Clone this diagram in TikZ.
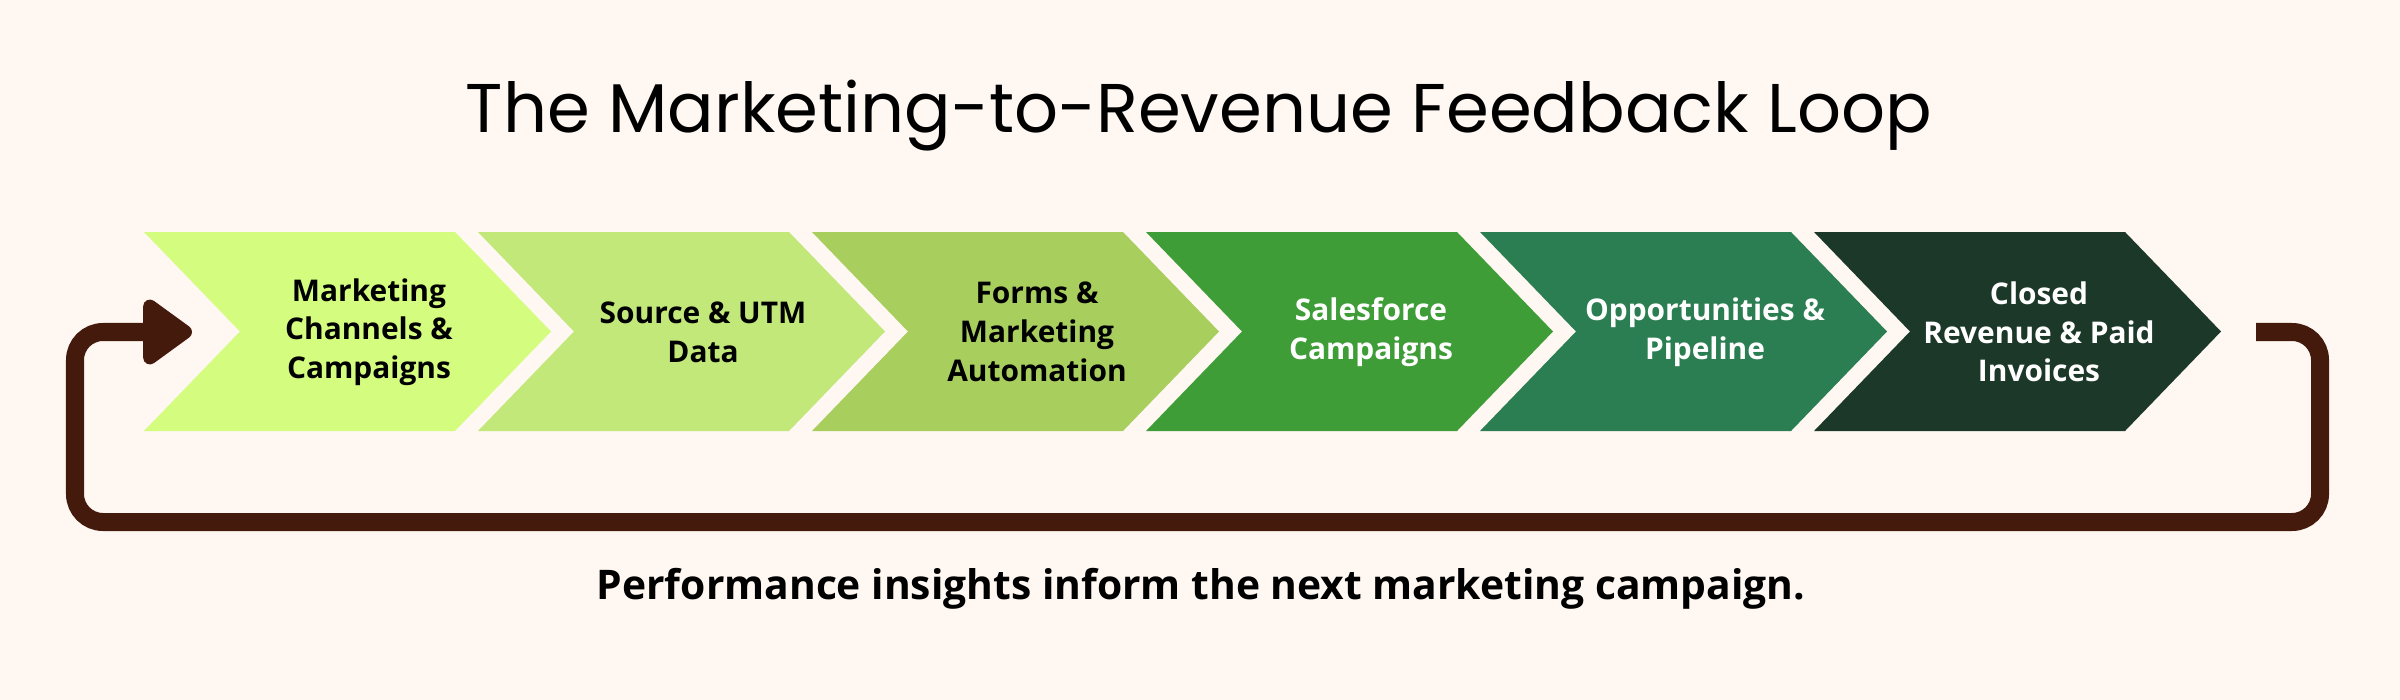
\documentclass[tikz,border=0pt]{standalone}
\usepackage{fontspec}
\setmainfont{Open Sans}
\newfontfamily\titlefont{Poppins}
\usetikzlibrary{arrows.meta}
\definecolor{bg}{HTML}{FEF7F2}
\definecolor{loopbrown}{HTML}{431A0B}
\definecolor{chA}{HTML}{D4FC7E}
\definecolor{chB}{HTML}{C1E878}
\definecolor{chC}{HTML}{A8CE5E}
\definecolor{chD}{HTML}{3E9D37}
\definecolor{chE}{HTML}{2B7E52}
\definecolor{chF}{HTML}{1C3828}

\begin{document}
\begin{tikzpicture}[x=0.01cm,y=-0.01cm]
\fill[bg] (0,0) rectangle (2400,700);
\node[font=\titlefont\fontsize{19.6}{24}\selectfont](title) at (1199,116){The Marketing-to-Revenue Feedback Loop};
 \tikzstyle{lbl}=[align=center, inner sep=0pt, font=\bfseries\fontsize{8.5}{11}\selectfont]
 \foreach \i/\c/\t/\k in {1/chA/black/{Marketing\\Channels \&\\Campaigns},2/chB/black/{Source \& UTM\\Data},3/chC/black/{Forms \&\\Marketing\\Automation},4/chD/white/{Salesforce\\Campaigns},5/chE/white/{Opportunities \&\\Pipeline},6/chF/white/{Closed\\Revenue \& Paid\\Invoices}}{
 \fill[\c] (144+334*\i-334,232) -- ++(311,0) -- ++(96,99.5) -- ++(-96,99.5) -- ++(-311,0) -- ++(96,-99.5) -- cycle;
 \node[lbl,text=\t](s\i) at (369+334*\i-334,332){\k};}
\coordinate (loopstart) at (2256,332);
\coordinate (loopend) at (192,332);
\draw[loopbrown, line width=0.18cm, rounded corners=0.28cm, -{Triangle[length=0.54cm, width=0.74cm, round]}] (loopstart) -- (2320,332) -- (2320,522) -- (75,522) -- (75,332) -- (loopend);
\node[font=\bfseries\fontsize{11.6}{14}\selectfont](caption) at (1201,589){Performance insights inform the next marketing campaign.};
\end{tikzpicture}
\end{document}
